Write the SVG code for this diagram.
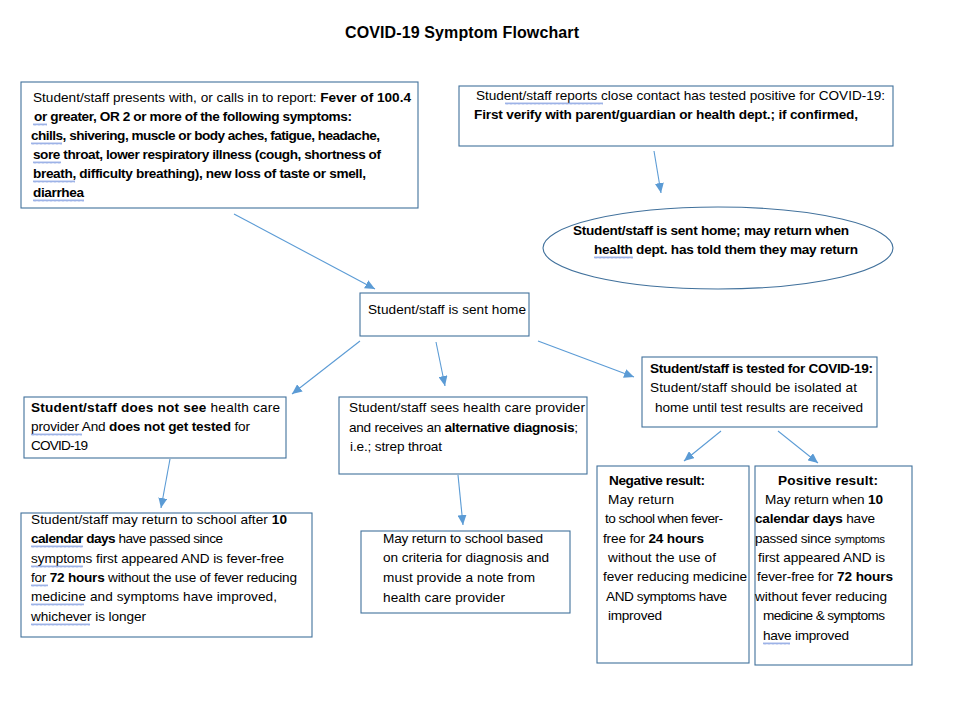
<svg xmlns="http://www.w3.org/2000/svg" width="978" height="722" viewBox="0 0 978 722">
<style>
.box{fill:#fff;stroke:#41719c;stroke-width:1.1}
text{font-family:"Liberation Sans",Arial,sans-serif;font-size:13.6px;fill:#000}
.b{font-weight:bold}
.sm{font-size:11.5px}
.title{font-size:16px;font-weight:bold}
.conn line{stroke:#5b9bd5;stroke-width:1.1;marker-end:url(#ah)}
.sq{fill:url(#wave)}
</style>
<defs>
<marker id="ah" markerUnits="userSpaceOnUse" markerWidth="11" markerHeight="9" refX="10" refY="4.5" orient="auto">
<path d="M0,0 L10,4.5 L0,9 z" fill="#5b9bd5"/>
</marker>
<pattern id="wave" patternUnits="userSpaceOnUse" width="4" height="3">
<path d="M0,2.5 L1,0.5 L2,2.5 L3,0.5 L4,2.5" fill="none" stroke="#5b7fd6" stroke-width="0.6"/>
</pattern>
</defs>
<rect width="978" height="722" fill="#fff"/>
<text class="title" x="345" y="38" textLength="234">COVID-19 Symptom Flowchart</text>

<g class="conn">
<line x1="234" y1="214" x2="375" y2="289"/>
<line x1="654" y1="151" x2="661" y2="193"/>
<line x1="360" y1="341" x2="292" y2="394"/>
<line x1="436" y1="342" x2="445" y2="386"/>
<line x1="538" y1="341" x2="634" y2="377"/>
<line x1="170" y1="459" x2="161" y2="508"/>
<line x1="458" y1="475" x2="463" y2="525"/>
<line x1="721" y1="431" x2="684" y2="461"/>
<line x1="778" y1="431" x2="818" y2="463"/>
</g>

<g id="symptoms">
<rect class="box" x="21" y="82" width="397" height="126"/>
<text x="33" y="102" textLength="378">Student/staff presents with, or calls in to report: <tspan class="b">Fever of 100.4</tspan></text>
<text class="b" x="34" y="121" textLength="318">or greater, OR 2 or more of the following symptoms:</text>
<text class="b" x="31" y="140" textLength="349">chills, shivering, muscle or body aches, fatigue, headache,</text>
<text class="b" x="33" y="159" textLength="348">sore throat, lower respiratory illness (cough, shortness of</text>
<text class="b" x="33" y="178" textLength="333">breath, difficulty breathing), new loss of taste or smell,</text>
<text class="b" x="33" y="197" textLength="51">diarrhea</text>
<rect class="sq" transform="translate(33,123)" width="14" height="3"/>
<rect class="sq" transform="translate(31,142)" width="31" height="3"/>
<rect class="sq" transform="translate(33,161)" width="28" height="3"/>
<rect class="sq" transform="translate(33,180)" width="42" height="3"/>
<rect class="sq" transform="translate(33,199)" width="51" height="3"/>
</g>

<g id="contact">
<rect class="box" x="459" y="86" width="434" height="60"/>
<text x="476" y="100" textLength="409">Student/staff  reports close contact has tested positive for COVID-19:</text>
<text class="b" x="474" y="119" textLength="384">First verify with parent/guardian or health dept.;  if confirmed,</text>
<rect class="sq" transform="translate(505,102)" width="98" height="3"/>
</g>

<g id="sent-home-health">
<ellipse class="box" cx="718" cy="248" rx="175" ry="41"/>
<text class="b" x="573" y="235" textLength="276">Student/staff is sent home; may return when</text>
<text class="b" x="594" y="254" textLength="264">health dept. has told them they may return</text>
<rect class="sq" transform="translate(594,256)" width="39" height="3"/>
</g>

<g id="sent-home">
<rect class="box" x="360" y="293" width="169" height="43"/>
<text x="368" y="314" textLength="158">Student/staff is sent home</text>
</g>

<g id="no-provider">
<rect class="box" x="24" y="397" width="262" height="61"/>
<text x="31" y="412" textLength="249"><tspan class="b">Student/staff does not see</tspan> health care</text>
<text x="31" y="431" textLength="219">provider And <tspan class="b">does not get tested</tspan> for</text>
<text x="31" y="450" textLength="57">COVID-19</text>
<rect class="sq" transform="translate(31,433)" width="51" height="3"/>
</g>

<g id="alt-diagnosis">
<rect class="box" x="339" y="397" width="248" height="77"/>
<text x="349" y="412" textLength="236">Student/staff sees health care provider</text>
<text x="349" y="432" textLength="229">and receives an <tspan class="b">alternative diagnosis</tspan>;</text>
<text x="350" y="451" textLength="92">i.e.; strep throat</text>
</g>

<g id="tested">
<rect class="box" x="642" y="357" width="235" height="70"/>
<text class="b" x="650" y="373" textLength="223">Student/staff is tested for COVID-19:</text>
<text x="650" y="392" textLength="207">Student/staff should be isolated at</text>
<text x="655" y="412" textLength="208">home until test results are received</text>
</g>

<g id="return-10-days">
<rect class="box" x="21" y="513" width="291" height="124"/>
<text x="31" y="524" textLength="256">Student/staff may return to school after <tspan class="b">10</tspan></text>
<text x="31" y="543" textLength="192"><tspan class="b">calendar days</tspan> have passed since</text>
<text x="31" y="563" textLength="253">symptoms first appeared AND is fever-free</text>
<text x="31" y="582" textLength="266">for <tspan class="b">72 hours</tspan> without the use of fever reducing</text>
<text x="31" y="601" textLength="246">medicine and symptoms have improved,</text>
<text x="31" y="621" textLength="115">whichever is longer</text>
<rect class="sq" transform="translate(31,545)" width="52" height="3"/>
<rect class="sq" transform="translate(31,565)" width="52" height="3"/>
<rect class="sq" transform="translate(31,584)" width="17" height="3"/>
<rect class="sq" transform="translate(31,603)" width="53" height="3"/>
<rect class="sq" transform="translate(31,623)" width="59" height="3"/>
</g>

<g id="return-diagnosis">
<rect class="box" x="361" y="531" width="209" height="82"/>
<text x="383" y="543" textLength="160">May return to school based</text>
<text x="383" y="562" textLength="166">on criteria for diagnosis and</text>
<text x="383" y="582" textLength="152">must provide a note from</text>
<text x="383" y="602" textLength="122">health care provider</text>
</g>

<g id="negative">
<rect class="box" x="597" y="466" width="152" height="197"/>
<text class="b" x="609" y="485" textLength="96">Negative result:</text>
<text x="608" y="504" textLength="66">May return</text>
<text x="605" y="523" textLength="118">to school when fever-</text>
<text x="603" y="543" textLength="101">free for <tspan class="b">24 hours</tspan></text>
<text x="608" y="562" textLength="108">without the use of</text>
<text x="603" y="581" textLength="144">fever reducing medicine</text>
<text x="606" y="601" textLength="121">AND symptoms have</text>
<text x="608" y="620" textLength="54">improved</text>
</g>

<g id="positive">
<rect class="box" x="755" y="466" width="157" height="199"/>
<text class="b" x="778" y="485" textLength="100">Positive result:</text>
<text x="765" y="504" textLength="118">May return when <tspan class="b">10</tspan></text>
<text x="755" y="523" textLength="120"><tspan class="b">calendar days</tspan> have</text>
<text x="755" y="543" textLength="130">passed since <tspan class="sm">symptoms</tspan></text>
<text x="758" y="562" textLength="127">first appeared AND is</text>
<text x="757" y="581" textLength="136">fever-free for <tspan class="b">72 hours</tspan></text>
<text x="755" y="601" textLength="132">without fever reducing</text>
<text x="763" y="620" textLength="122">medicine &amp; symptoms</text>
<text x="763" y="640" textLength="86">have improved</text>
<rect class="sq" transform="translate(763,642)" width="27" height="3"/>
</g>
</svg>
